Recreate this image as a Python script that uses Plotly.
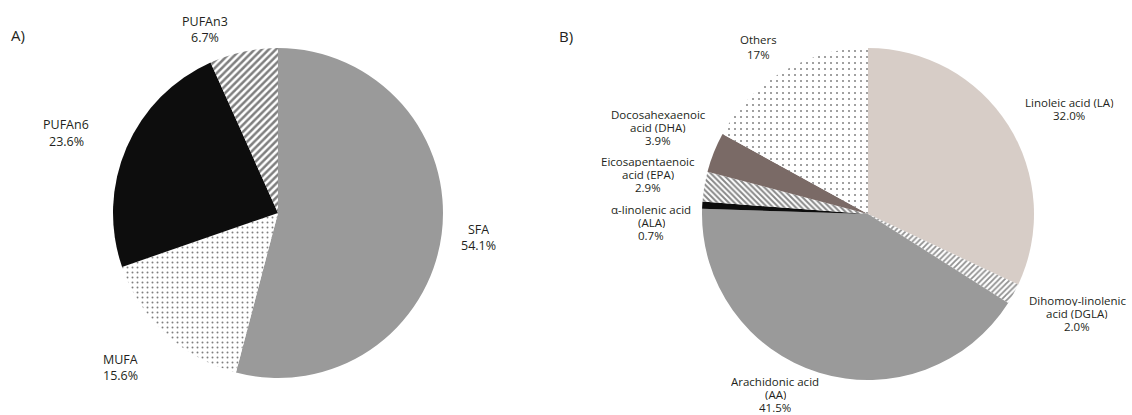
import plotly.graph_objects as go

W, H = 1132, 415

# ---- data ----
a_labels = ["SFA", "MUFA", "PUFAn6", "PUFAn3"]
a_values = [54.1, 15.6, 23.6, 6.7]

b_labels = ["Linoleic acid (LA)", "Dihomoγ-linolenic acid (DGLA)", "Arachidonic acid (AA)",
            "α-linolenic acid (ALA)", "Eicosapentaenoic acid (EPA)",
            "Docosahexaenoic acid (DHA)", "Others"]
b_values = [32.0, 2.0, 41.5, 0.7, 2.9, 3.9, 17]

# label text lines (as printed on the figure)
a_text = [["SFA", "54.1%"], ["MUFA", "15.6%"], ["PUFAn6", "23.6%"], ["PUFAn3", "6.7%"]]
b_text = [["Linoleic acid (LA)", "32.0%"],
          ["Dihomoγ-linolenic", "acid (DGLA)", "2.0%"],
          ["Arachidonic acid", "(AA)", "41.5%"],
          ["α-linolenic acid", "(ALA)", "0.7%"],
          ["Eicosapentaenoic", "acid (EPA)", "2.9%"],
          ["Docosahexaenoic", "acid (DHA)", "3.9%"],
          ["Others", "17%"]]

# ---- styling ----
a_colors = ["#9a9a9a", "white", "#0d0d0d", "white"]
a_shapes = ["", ".", "", "/"]
a_fg = ["#9a9a9a", "#000000", "#0d0d0d", "#000000"]
a_size = [6, 5, 6, 5]
a_sol = [0.3, 0.12, 0.3, 0.5]

b_colors = ["#d7cdc7", "white", "#9a9a9a", "#0d0d0d", "white", "#7a6a66", "white"]
b_shapes = ["", "/", "", "", "\\", "", "."]
b_fg = ["#d7cdc7", "#222222", "#9a9a9a", "#0d0d0d", "#111111", "#7a6a66", "#111111"]
b_size = [6, 4, 6, 6, 4, 6, 6]
b_sol = [0.3, 0.45, 0.3, 0.3, 0.5, 0.3, 0.1]

FONT = "Open Sans"
TXT = "#231f20"

def px_dom(cx, cy, r):
    return dict(x=[(cx - r) / W, (cx + r) / W], y=[1 - (cy + r) / H, 1 - (cy - r) / H])

fig = go.Figure()
fig.add_trace(go.Pie(
    labels=a_labels, values=a_values, sort=False, direction="clockwise", rotation=0,
    textinfo="none", hoverinfo="label+percent", showlegend=False,
    domain=px_dom(278, 213, 165),
    marker=dict(colors=a_colors, line=dict(width=0),
                pattern=dict(shape=a_shapes, fgcolor=a_fg, bgcolor=a_colors,
                             size=a_size, solidity=a_sol, fillmode="overlay")),
))
fig.add_trace(go.Pie(
    labels=b_labels, values=b_values, sort=False, direction="clockwise", rotation=0,
    textinfo="none", hoverinfo="label+percent", showlegend=False,
    domain=px_dom(868, 214, 166),
    marker=dict(colors=b_colors, line=dict(width=0),
                pattern=dict(shape=b_shapes, fgcolor=b_fg, bgcolor=b_colors,
                             size=b_size, solidity=b_sol, fillmode="overlay")),
))

# label placement (pixel centres of first line, x centre, line step)
a_pos = [(478, 229, 16), (120, 359, 16), (66, 124, 17), (205, 22, 16)]
b_pos = [(1069, 102, 13), (1077, 300, 13), (775, 381, 13), (651, 209, 13),
         (648, 161, 13), (658, 114, 13), (758, 39, 16)]

annots = []
def add_label(lines, cx, cy, step, size):
    for i, ln in enumerate(lines):
        annots.append(dict(text=ln, x=cx / W, y=1 - (cy + i * step) / H,
                           xref="paper", yref="paper", showarrow=False,
                           xanchor="center", yanchor="middle", height=step - 1,
                           borderpad=0,
                           font=dict(family=FONT, size=size, color=TXT)))

for lines, (cx, cy, st) in zip(a_text, a_pos):
    add_label(lines, cx, cy, st, 12.5)
for lines, (cx, cy, st) in zip(b_text, b_pos):
    add_label(lines, cx, cy, st, 11.5)

for t, cx, cy in [("A)", 18, 35), ("B)", 566, 36)]:
    annots.append(dict(text=t, x=cx / W, y=1 - cy / H, xref="paper", yref="paper",
                       showarrow=False, xanchor="center", yanchor="middle",
                       font=dict(family=FONT, size=15, color=TXT)))

fig.update_layout(width=W, height=H, margin=dict(l=0, r=0, t=0, b=0),
                  paper_bgcolor="white", plot_bgcolor="white", annotations=annots)

fig.write_html("out.html", config={"displayModeBar": False},
               post_script="document.body.style.margin='0px';"
                           "document.documentElement.style.overflow='hidden';")
